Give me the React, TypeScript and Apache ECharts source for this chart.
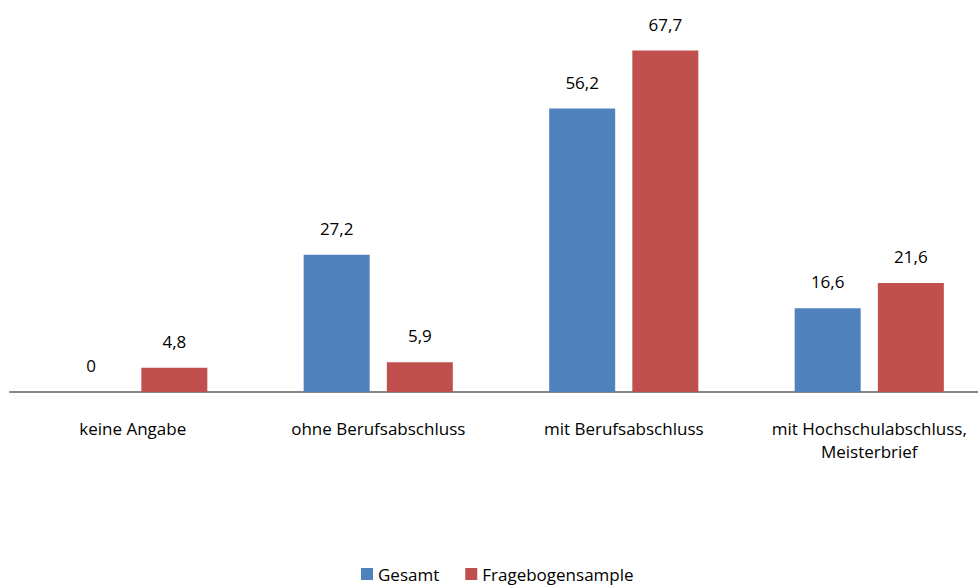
import React, { useEffect, useRef } from "react";
import * as echarts from "echarts";

const categories = [
  "keine Angabe",
  "ohne Berufsabschluss",
  "mit Berufsabschluss",
  "mit Hochschulabschluss,\nMeisterbrief",
];
const seriesNames = ["Gesamt", "Fragebogensample"];
const gesamt = [0, 27.2, 56.2, 16.6];
const fragebogen = [4.8, 5.9, 67.7, 21.6];
const colors = ["#4F81BD", "#C0504D"];

const FONT = "'Open Sans', 'Noto Sans', sans-serif";

export default function App() {
  const ref = useRef<HTMLDivElement>(null);
  useEffect(() => {
    if (!ref.current) return;
    const chart = echarts.init(ref.current, undefined, { renderer: "svg" });
    const label = {
      show: true,
      position: "top",
      distance: 18,
      color: "#000",
      fontFamily: FONT,
      fontSize: 17,
      formatter: (p: any) => String(p.value).replace(".", ","),
    };
    chart.setOption({
      animation: false,
      backgroundColor: "#fff",
      grid: {
        left: 10,
        width: 982,
        top: 39,
        bottom: 194,
        containLabel: false,
        outerBoundsMode: "none",
      },
      legend: {
        data: seriesNames,
        left: 361,
        top: 565,
        padding: 0,
        itemWidth: 12,
        itemHeight: 12,
        itemGap: 26,
        icon: "rect",
        textStyle: { fontFamily: FONT, fontSize: 17, lineHeight: 18, color: "#000" },
      },
      xAxis: {
        type: "category",
        data: categories,
        axisLine: { show: true, lineStyle: { color: "#868686", width: 2 } },
        axisTick: { show: false },
        axisLabel: {
          color: "#000",
          fontFamily: FONT,
          fontSize: 17,
          margin: 25,
          lineHeight: 23,
          interval: 0,
        },
      },
      yAxis: {
        type: "value",
        min: 0,
        max: 70,
        show: false,
        splitLine: { show: false },
      },
      series: [
        {
          name: seriesNames[0],
          type: "bar",
          data: gesamt,
          itemStyle: { color: colors[0] },
          barWidth: 66,
          barGap: "26%",
          label,
        },
        {
          name: seriesNames[1],
          type: "bar",
          data: fragebogen,
          itemStyle: { color: colors[1] },
          barWidth: 66,
          barGap: "26%",
          label,
        },
      ],
    });
    return () => chart.dispose();
  }, []);
  return (
    <div
      ref={ref}
      style={{ position: "absolute", left: 0, top: 0, width: 978, height: 586 }}
    />
  );
}
